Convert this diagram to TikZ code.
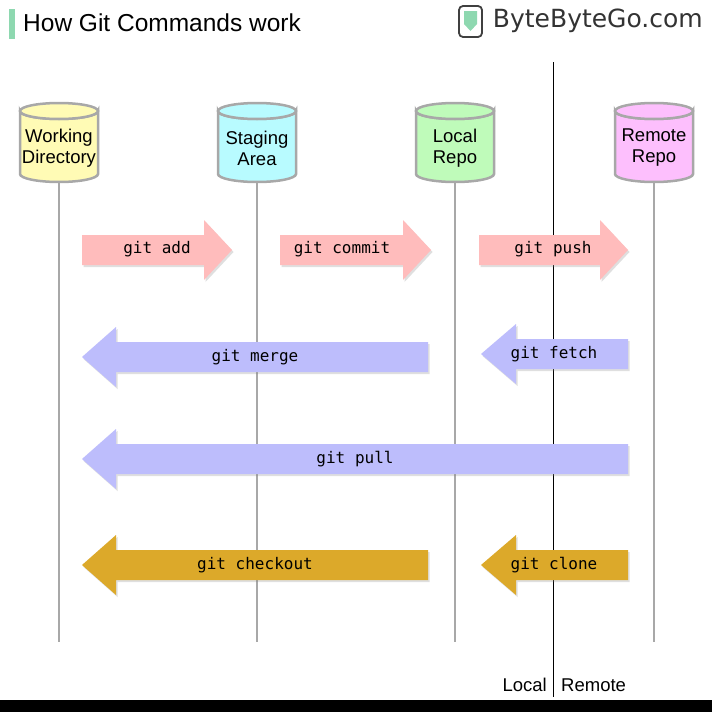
\documentclass[tikz,border=0pt]{standalone}
\usepackage{fontspec}
\setmainfont{Liberation Sans}
\newfontfamily\monof{DejaVu Sans Mono}
\newfontfamily\logof{DejaVu Sans}
\usetikzlibrary{shadows}
\definecolor{cpink}{HTML}{FFBCBC}
\definecolor{cblue}{HTML}{BDBDFC}
\definecolor{cgold}{HTML}{DCA92A}
\definecolor{cyel}{HTML}{FFFBB5}
\definecolor{ccyan}{HTML}{B8FBFF}
\definecolor{cgreen}{HTML}{BFFBBA}
\definecolor{cmag}{HTML}{FDBFFD}
\definecolor{cline}{HTML}{A8A8A8}
\definecolor{cbar}{HTML}{8ED8B0}
\tikzset{
 arr/.style={fill=#1, draw=none, drop shadow={shadow xshift=1.5pt,shadow yshift=-2pt,opacity=0.25}},
 lbl/.style={font=\monof\fontsize{16}{18}\selectfont, inner sep=0pt},
 cyl/.style={draw=cline, line width=2.5pt, fill=#1},
 life/.style={draw=cline, line width=2.5pt},
 clab/.style={font=\fontsize{18.5}{21}\selectfont, align=center, inner sep=0pt}
}
\newcommand\garr[5]{\path[arr=#5] (#1,#4-15) -- (#2,#4-15) -- (#2,#4-30) -- (#3,#4) -- (#2,#4+30) -- (#2,#4+15) -- (#1,#4+15) -- cycle;}
\newcommand\gcyl[3]{%
 \path[cyl=#2] (#1-39,111) arc[start angle=180,end angle=0,x radius=39,y radius=8] -- (#1+39,174) arc[start angle=0,end angle=180,x radius=39,y radius=8] -- cycle;
 \path[cyl=#2] (#1,111) ellipse[x radius=39,y radius=8];
 \node[clab] (#3) at (#1,148) {};}
\begin{document}
\begin{tikzpicture}[x=1pt,y=-1pt]
\useasboundingbox (0,0) rectangle (712,712);
\fill[white] (0,0) rectangle (712,712);
\fill[black] (0,700) rectangle (712,712);
\fill[cbar] (9,9) rectangle (15,39);
\node[anchor=west, font=\fontsize{24.5}{28}\selectfont, inner sep=0pt] (title) at (23,23) {How Git Commands work};
\node[anchor=east, font=\logof\fontsize{25}{28}\selectfont, text=black!80, inner sep=0pt] (logo) at (703,21) {ByteByteGo.com};
\draw[line width=1.8pt, draw=black!75, rounded corners=4pt] (459,6) rectangle (482,37);
\fill[cbar] (464,11) -- (477,11) -- (477,24) -- (470.5,31) -- (464,24) -- cycle;
\foreach \x in {59,257,455,654}{\draw[life] (\x,183) -- (\x,642);}
\draw[black, line width=1pt] (553,62) -- (553,697);
\node[font=\fontsize{18.5}{20}\selectfont, anchor=east, inner sep=0pt] (loc) at (547,685) {Local};
\node[font=\fontsize{18.5}{20}\selectfont, anchor=west, inner sep=0pt] (rem) at (561,685) {Remote};
\gcyl{59}{cyel}{wd}
\gcyl{257}{ccyan}{sa}
\gcyl{455}{cgreen}{lr}
\gcyl{654}{cmag}{rr}
\node[clab] at (59,148) {Working\\Directory};
\node[clab] at (257,148) {Staging\\Area};
\node[clab] at (455,148) {Local\\Repo};
\node[clab] at (654,148) {Remote\\Repo};
\garr{82}{204}{232}{250}{cpink}
\garr{280}{403}{431}{250}{cpink}
\garr{479}{600}{628}{250}{cpink}
\garr{428}{116}{82}{357}{cblue}
\garr{628}{516}{481}{354}{cblue}
\garr{628}{116}{82}{459}{cblue}
\garr{428}{116}{82}{565}{cgold}
\garr{628}{516}{481}{565}{cgold}
\node[lbl] (l1) at (157,249) {git add};
\node[lbl] (l2) at (342,249) {git commit};
\node[lbl] (l3) at (553,249) {git push};
\node[lbl] (l4) at (255,357) {git merge};
\node[lbl] (l5) at (554,354) {git fetch};
\node[lbl] (l6) at (355,459) {git pull};
\node[lbl] (l7) at (255,565) {git checkout};
\node[lbl] (l8) at (554,565) {git clone};
\end{tikzpicture}
\end{document}
